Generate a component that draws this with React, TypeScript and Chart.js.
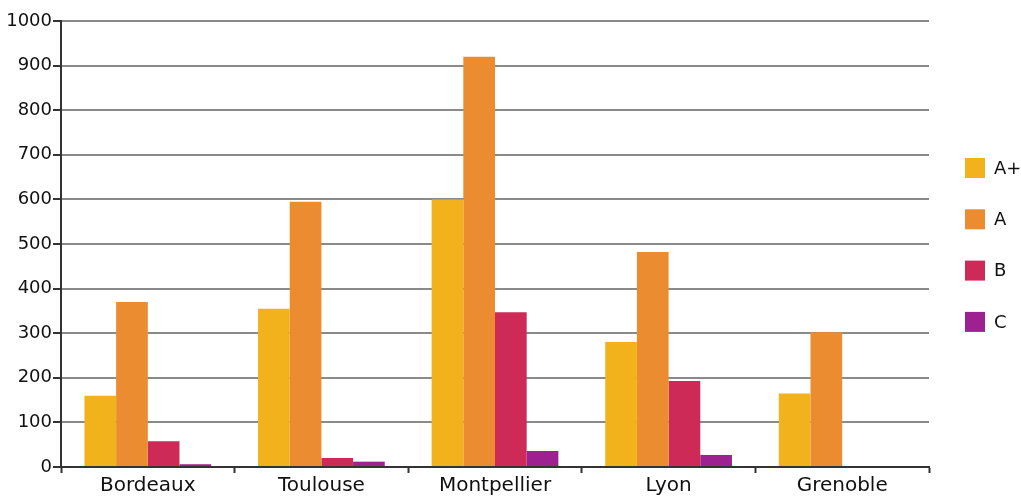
import React, { useEffect, useRef } from "react";
import { Chart, registerables } from "chart.js";

Chart.register(...registerables);

const cities = ["Bordeaux", "Toulouse", "Montpellier", "Lyon", "Grenoble"];
const seriesNames = ["A+", "A", "B", "C"];
const seriesColors = ["#F2B21B", "#EB8C30", "#CD2A57", "#9D2191"];
const valuesAPlus = [160, 355, 600, 280, 165];
const valuesA = [370, 595, 920, 482, 302];
const valuesB = [58, 20, 347, 193, 0];
const valuesC = [6, 12, 36, 27, 0];
const yTicks = [0, 100, 200, 300, 400, 500, 600, 700, 800, 900, 1000];

const FONT = "'DejaVu Sans', sans-serif";

// Vertical legend drawn to the right of the plot area.
const sideLegend = {
  id: "sideLegend",
  afterDraw(chart: any) {
    const ctx = chart.ctx;
    const x = 965;
    const startY = 168;
    const gap = 51.3;
    ctx.save();
    ctx.font = `18px ${FONT}`;
    ctx.textBaseline = "middle";
    ctx.textAlign = "left";
    chart.data.datasets.forEach((ds: any, i: number) => {
      const cy = startY + i * gap;
      ctx.fillStyle = ds.backgroundColor;
      ctx.fillRect(x, cy - 10, 20, 20);
      ctx.fillStyle = "#111";
      ctx.fillText(ds.label, x + 29, cy + 1);
    });
    ctx.restore();
  },
};

export default function App() {
  const canvasRef = useRef<HTMLCanvasElement | null>(null);

  useEffect(() => {
    if (!canvasRef.current) return;
    const series = [valuesAPlus, valuesA, valuesB, valuesC];
    const chart = new Chart(canvasRef.current, {
      type: "bar",
      data: {
        labels: cities,
        datasets: series.map((data, i) => ({
          label: seriesNames[i],
          data,
          backgroundColor: seriesColors[i],
          borderWidth: 0,
          categoryPercentage: 0.73,
          barPercentage: 1,
        })),
      },
      options: {
        animation: false,
        responsive: false,
        maintainAspectRatio: false,
        layout: { padding: { top: 21, right: 92, bottom: 0, left: 0 } },
        plugins: {
          legend: { display: false },
          tooltip: { enabled: false },
        },
        scales: {
          x: {
            offset: true,
            grid: {
              display: true,
              offset: true,
              drawOnChartArea: false,
              drawTicks: true,
              tickLength: 6,
              tickColor: "#333",
              tickWidth: 2,
            },
            border: { display: true, color: "#333", width: 2 },
            ticks: {
              color: "#111",
              padding: 1,
              font: { family: FONT, size: 20 },
              maxRotation: 0,
            },
            afterFit(scale: any) {
              scale.height = 30;
            },
          },
          y: {
            min: 0,
            max: 1000,
            afterBuildTicks(scale: any) {
              scale.ticks = yTicks.map((v) => ({ value: v }));
            },
            grid: {
              color: "#8a8a8a",
              lineWidth: 2,
              drawTicks: true,
              tickLength: 8,
              tickColor: "#333",
              tickWidth: 2,
            },
            border: { display: true, color: "#333", width: 2 },
            ticks: {
              color: "#111",
              padding: 1,
              font: { family: FONT, size: 18 },
              callback: (v: any) => String(v),
            },
            afterFit(scale: any) {
              scale.width = 61;
            },
          },
        },
      },
      plugins: [sideLegend],
    });
    return () => chart.destroy();
  }, []);

  return (
    <div style={{ position: "fixed", left: 0, top: 0, width: 1021, height: 497, background: "#fff" }}>
      <canvas ref={canvasRef} width={1021} height={497} style={{ display: "block" }} />
    </div>
  );
}
